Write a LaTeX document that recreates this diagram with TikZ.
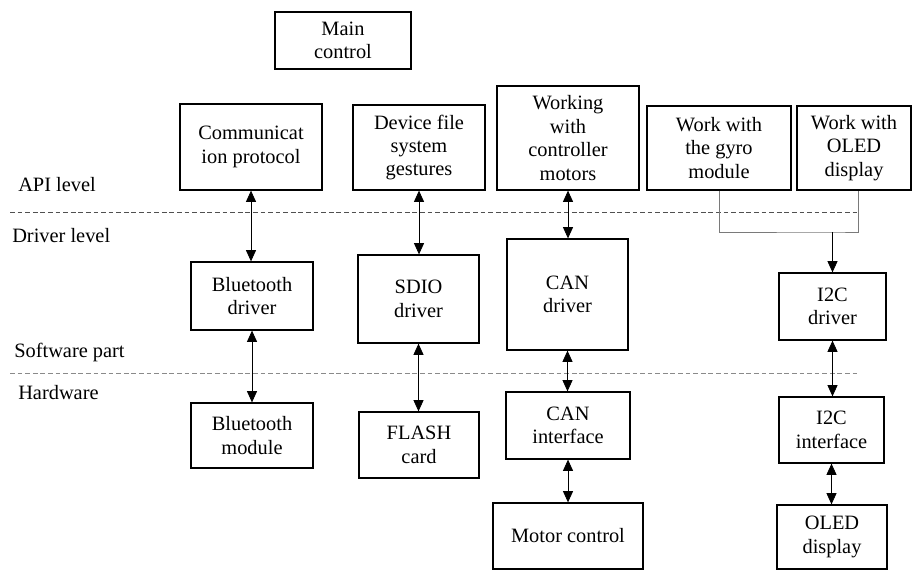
\documentclass[tikz,border=0pt]{standalone}
\usepackage{fontspec}
\setmainfont{Liberation Serif}
\usepackage{xcolor}
\usepackage{tikz}
\usetikzlibrary{arrows.meta}
\definecolor{LVDash}{HTML}{505050}
\definecolor{LVDashLight}{HTML}{8A8A8A}
\definecolor{LVWire}{HTML}{7A7A7A}

\begin{document}
\begin{tikzpicture}[x=1cm,y=1cm,
  blk/.style={draw,line width=0.9pt,align=center,inner sep=0pt,
    font=\fontsize{14.5}{16.7}\selectfont},
  lvl/.style={anchor=west,inner sep=0pt,font=\fontsize{14.5}{16.7}\selectfont},
  biarr/.style={line width=0.6pt,{Triangle[length=2.8mm,width=2.5mm]}-{Triangle[length=2.8mm,width=2.5mm]}},
  onearr/.style={line width=0.6pt,-{Triangle[length=2.8mm,width=2.5mm]}},
  sep/.style={line width=0.7pt,dash pattern=on 3.4pt off 2pt}]
\path[use as bounding box] (0,0) rectangle (22.80,14.275);
% levels
\draw[sep,LVDash] (0.25,8.975) -- (21.50,8.975);
\draw[sep,LVDashLight] (0.25,4.95) -- (21.50,4.95);
\node[lvl] (api) at (0.45,9.65) {API level};
\node[lvl] (drv) at (0.30,8.375) {Driver level};
\node[lvl] (soft) at (0.35,5.475) {Software part};
\node[lvl] (hard) at (0.45,4.45) {Hardware};
% top
\node[blk,minimum width=3.40cm,minimum height=1.425cm] (main) at (8.575,13.2625) {Main\\control};
\node[blk,minimum width=3.55cm,minimum height=2.15cm] (comm) at (6.275,10.60) {Communicat\\ion protocol};
\node[blk,minimum width=3.30cm,minimum height=2.125cm] (dev) at (10.475,10.5875) {Device file\\system\\gestures};
\node[blk,minimum width=3.55cm,minimum height=2.60cm] (work) at (14.20,10.825) {Working\\with\\controller\\motors};
\node[blk,minimum width=3.60cm,minimum height=2.10cm] (gyro) at (17.975,10.575) {Work with\\the gyro\\module};
\node[blk,minimum width=2.85cm,minimum height=2.10cm] (oled) at (21.35,10.575) {Work with\\OLED\\display};
% drivers
\node[blk,minimum width=3.05cm,minimum height=1.70cm] (btd) at (6.30,6.875) {Bluetooth\\driver};
\node[blk,minimum width=3.025cm,minimum height=2.20cm] (sdio) at (10.4625,6.80) {SDIO\\driver};
\node[blk,minimum width=3.025cm,minimum height=2.775cm] (cand) at (14.1875,6.9125) {CAN\\driver};
\node[blk,minimum width=2.675cm,minimum height=1.675cm] (i2cd) at (20.8125,6.6125) {I2C\\driver};
% hardware
\node[blk,minimum width=3.05cm,minimum height=1.625cm] (btm) at (6.30,3.3875) {Bluetooth\\module};
\node[blk,minimum width=3.00cm,minimum height=1.65cm] (flash) at (10.475,3.15) {FLASH\\card};
\node[blk,minimum width=3.10cm,minimum height=1.675cm] (cani) at (14.20,3.6375) {CAN\\interface};
\node[blk,minimum width=3.75cm,minimum height=1.65cm] (motor) at (14.20,0.875) {Motor control};
\node[blk,minimum width=2.625cm,minimum height=1.65cm] (i2ci) at (20.7875,3.525) {I2C\\interface};
\node[blk,minimum width=2.75cm,minimum height=1.60cm] (oledd) at (20.80,0.85) {OLED\\display};
% links
\draw[biarr] (comm.south) -- (comm.south |- btd.north);
\draw[biarr] (dev.south) -- (dev.south |- sdio.north);
\draw[biarr] (work.south) -- (work.south |- cand.north);
\draw[biarr] (btd.south) -- (btd.south |- btm.north);
\draw[biarr] (sdio.south) -- (sdio.south |- flash.north);
\draw[biarr] (cand.south) -- (cand.south |- cani.north);
\draw[biarr] (cani.south) -- (cani.south |- motor.north);
\draw[biarr] (i2cd.south) -- (i2cd.south |- i2ci.north);
\draw[biarr] (i2ci.south) -- (i2ci.south |- oledd.north);
\coordinate (jn) at (20.8125,8.475);
\draw[LVWire,line width=0.7pt] (gyro.south) |- (jn) -| ([xshift=0.1cm]oled.south);
\draw[onearr] (jn) -- (i2cd.north);
\end{tikzpicture}
\end{document}
